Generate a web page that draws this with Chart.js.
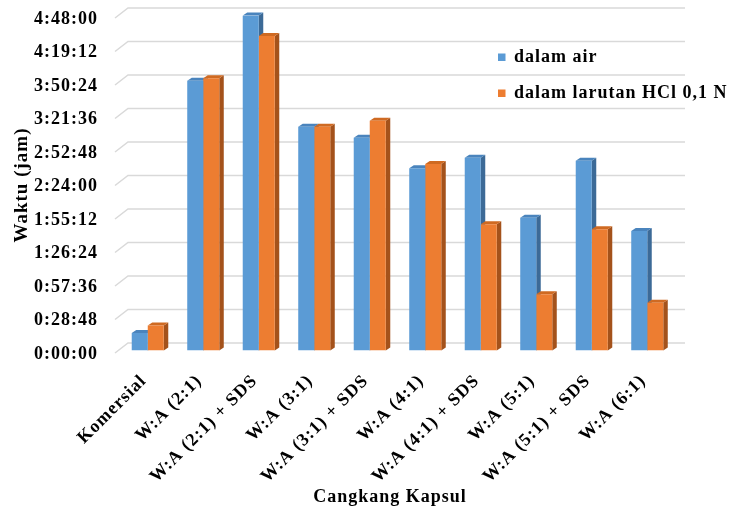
<!DOCTYPE html>
<html>
<head>
<meta charset="utf-8">
<script src="https://cdn.jsdelivr.net/npm/chart.js@4/dist/chart.umd.min.js"></script>
<style>
  html, body { margin: 0; padding: 0; background: #ffffff; }
  #wrap { width: 733px; height: 512px; }
</style>
</head>
<body>
<div id="wrap"><canvas id="c" width="733" height="512"></canvas></div>
<script>
// Capsule shell types on the x axis
const categories = [
  'Komersial', 'W:A (2:1)', 'W:A (2:1) + SDS', 'W:A (3:1)', 'W:A (3:1) + SDS',
  'W:A (4:1)', 'W:A (4:1) + SDS', 'W:A (5:1)', 'W:A (5:1) + SDS', 'W:A (6:1)'
];
// Disintegration time, in seconds
const dalamAir = [903, 13917, 17280, 11544, 10976, 9398, 9945, 6850, 9790, 6164];
const dalamHCl = [1290, 14040, 16222, 11544, 11853, 9620, 6509, 2899, 6252, 2466];
const seriesNames = ['dalam air', 'dalam larutan HCl 0,1 N'];
// Y axis: 0:00:00 to 4:48:00 in steps of 0:28:48
const yMax = 17280;
const yStep = 1728;
const xTitle = 'Cangkang Kapsul';
const yTitle = 'Waktu (jam)';

const FONT = "'Liberation Serif', 'Times New Roman', serif";
const frontColors = ['#5b9bd5', '#ed7d31'];
const topColors = ['#4a84bd', '#cf6a22'];
const sideColors = ['#3c6a97', '#a4521b'];
const DX = 4.5, DY = 3;

function hms(sec) {
  const h = Math.floor(sec / 3600);
  const m = Math.floor((sec % 3600) / 60);
  const s = Math.round(sec % 60);
  return h + ':' + String(m).padStart(2, '0') + ':' + String(s).padStart(2, '0');
}

const spacing = (chart) => { chart.ctx.letterSpacing = '1px'; };

const columns3d = {
  id: 'columns3d',
  beforeUpdate: spacing,
  beforeLayout: spacing,
  beforeDraw: spacing,
  beforeDatasetsDraw(chart) {
    const { ctx, chartArea: a, scales: { y } } = chart;
    ctx.save();
    // back wall gridlines with their floor-depth edge on the left
    ctx.strokeStyle = '#d9d9d9';
    ctx.lineWidth = 1.5;
    y.ticks.forEach(t => {
      const py = y.getPixelForValue(t.value);
      ctx.beginPath();
      ctx.moveTo(a.left - 5, py + 2.5);
      ctx.lineTo(a.left + 8, py - 7.5);
      ctx.lineTo(a.right + 10, py - 7.5);
      ctx.stroke();
    });
    // side and top faces of each column, painted before the front faces
    chart.data.datasets.forEach((ds, i) => {
      chart.getDatasetMeta(i).data.forEach(bar => {
        const { x, y: top, base, width } = bar.getProps(['x', 'y', 'base', 'width'], true);
        const l = x - width / 2, r = x + width / 2;
        ctx.fillStyle = sideColors[i];
        ctx.beginPath();
        ctx.moveTo(r, top); ctx.lineTo(r + DX, top - DY);
        ctx.lineTo(r + DX, base - DY); ctx.lineTo(r, base);
        ctx.closePath(); ctx.fill();
        ctx.fillStyle = topColors[i];
        ctx.beginPath();
        ctx.moveTo(l, top); ctx.lineTo(l + DX, top - DY);
        ctx.lineTo(r + DX, top - DY); ctx.lineTo(r, top);
        ctx.closePath(); ctx.fill();
      });
    });
    ctx.restore();
  },
  afterDraw(chart) {
    const ctx = chart.ctx;
    ctx.save();
    ctx.letterSpacing = '1px';
    ctx.fillStyle = '#000000';
    // legend
    ctx.font = 'bold 18px ' + FONT;
    ctx.textAlign = 'left';
    ctx.textBaseline = 'middle';
    chart.data.datasets.forEach((ds, i) => {
      const cy = 57.5 + i * 36;
      ctx.fillStyle = ds.backgroundColor;
      ctx.fillRect(498, cy - 4, 7.5, 7.5);
      ctx.fillStyle = '#000000';
      ctx.fillText(ds.label, 514, cy);
    });
    // axis titles
    ctx.textAlign = 'center';
    ctx.fillText(xTitle, 390, 497);
    ctx.font = 'bold 19px ' + FONT;
    ctx.translate(22, 185);
    ctx.rotate(-Math.PI / 2);
    ctx.fillText(yTitle, 0, 0);
    ctx.restore();
  }
};

new Chart(document.getElementById('c'), {
  type: 'bar',
  data: {
    labels: categories,
    datasets: [
      { label: seriesNames[0], data: dalamAir, backgroundColor: frontColors[0] },
      { label: seriesNames[1], data: dalamHCl, backgroundColor: frontColors[1] }
    ]
  },
  options: {
    responsive: false,
    devicePixelRatio: 1,
    animation: false,
    layout: { padding: { top: 15.5, right: 58, bottom: 0, left: 0 } },
    datasets: { bar: { categoryPercentage: 0.577, barPercentage: 1.0, borderWidth: 0 } },
    plugins: { legend: { display: false }, tooltip: { enabled: false } },
    scales: {
      x: {
        grid: { display: false },
        border: { display: false },
        ticks: {
          autoSkip: false, maxRotation: 45, minRotation: 45, padding: 12, labelOffset: -4,
          color: '#000000', font: { family: FONT, size: 18, weight: 'bold' }
        },
        afterFit(s) { s.height = 161.5; s.paddingLeft = 0; s.paddingRight = 0; }
      },
      y: {
        min: 0, max: yMax,
        grid: { display: false },
        border: { display: false },
        ticks: {
          stepSize: yStep, padding: 14, labelOffset: 3.5,
          color: '#000000', font: { family: FONT, size: 18, weight: 'bold' },
          callback: (v) => hms(v)
        },
        afterFit(s) { s.width = 120; s.paddingTop = 0; s.paddingBottom = 0; }
      }
    }
  },
  plugins: [columns3d]
});
</script>
</body>
</html>
